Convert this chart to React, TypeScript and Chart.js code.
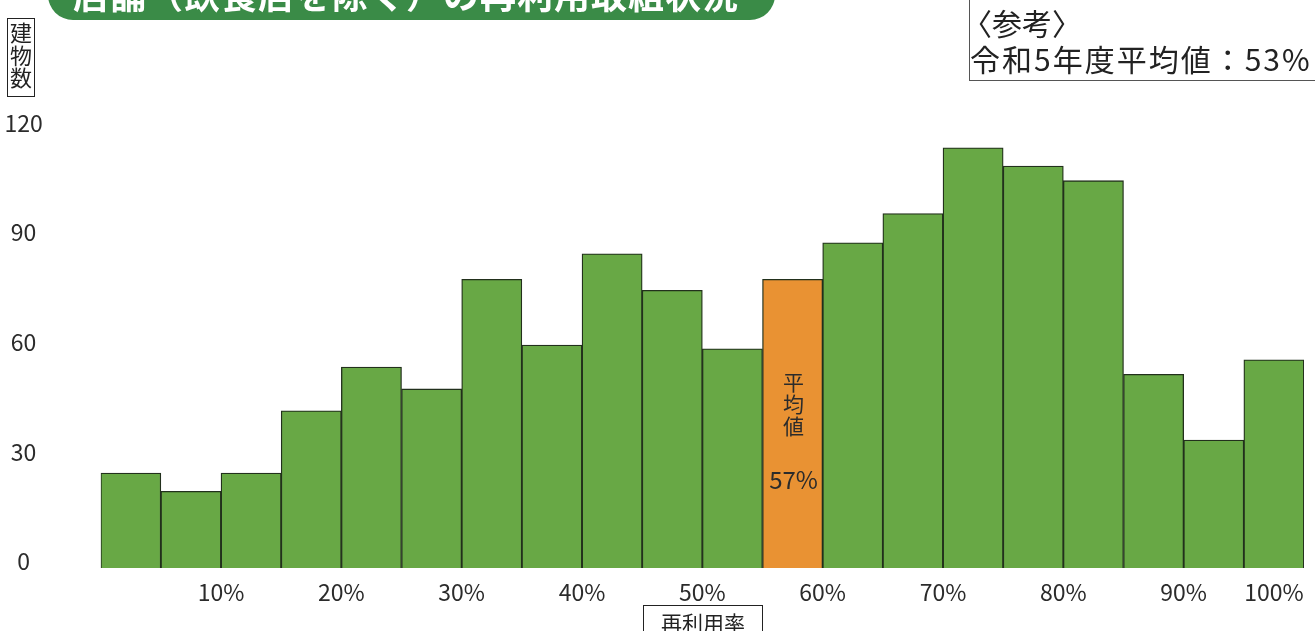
import { useEffect, useRef } from 'react';
import { Chart, registerables } from 'chart.js';

Chart.register(...registerables);

// Re-use rate bins (left edge, %), 5% wide each
const binStarts = [0, 5, 10, 15, 20, 25, 30, 35, 40, 45, 50, 55, 60, 65, 70, 75, 80, 85, 90, 95];
// Number of buildings per bin
const buildingCounts = [26, 21, 26, 43, 55, 49, 79, 61, 86, 76, 60, 79, 89, 97, 115, 110, 106, 53, 35, 57];
// Bin that contains this year's average
const averageBinIndex = 11;
const averageCaption = ['平', '均', '値'];
const averageLabel = '57%';

// X axis tick positions and their labels
const xTickValues = [10, 20, 30, 40, 50, 60, 70, 80, 90, 97.5];
const xTickLabels = ['10%', '20%', '30%', '40%', '50%', '60%', '70%', '80%', '90%', '100%'];
// Y axis
const yMin = 0;
const yMax = 120;
const yStep = 30;

const FONT = '"Noto Sans CJK JP", "Noto Sans", sans-serif';
const GREEN = '#68a845';
const ORANGE = '#e99233';
const EDGE = '#22301c';

const averageTextPlugin = {
  id: 'averageText',
  afterDatasetsDraw(chart: any) {
    const bar = chart.getDatasetMeta(0).data[averageBinIndex];
    if (!bar) return;
    const ctx = chart.ctx;
    ctx.save();
    ctx.fillStyle = '#2b2b2b';
    ctx.textAlign = 'center';
    ctx.textBaseline = 'middle';
    ctx.font = `21px ${FONT}`;
    averageCaption.forEach((c, i) => {
      ctx.fillText(c, bar.x + 1, bar.y + 103 + i * 22);
    });
    ctx.font = `24px ${FONT}`;
    ctx.fillText(averageLabel, bar.x + 1, bar.y + 201);
    ctx.restore();
  },
};

export default function App() {
  const canvasRef = useRef<HTMLCanvasElement | null>(null);

  useEffect(() => {
    if (!canvasRef.current) return;
    const chart = new Chart(canvasRef.current, {
      type: 'bar',
      data: {
        datasets: [
          {
            data: binStarts.map((s, i) => ({ x: s + 2.5, y: buildingCounts[i] })),
            backgroundColor: binStarts.map((_, i) => (i === averageBinIndex ? ORANGE : GREEN)),
            borderColor: EDGE,
            borderWidth: 1.3,
            barPercentage: 1,
            categoryPercentage: 1,
          },
        ],
      },
      plugins: [averageTextPlugin],
      options: {
        animation: false,
        responsive: false,
        maintainAspectRatio: false,
        layout: { padding: { top: 129.5, right: 11, bottom: 0, left: 0 } },
        plugins: { legend: { display: false }, tooltip: { enabled: false }, title: { display: false } },
        scales: {
          x: {
            type: 'linear',
            min: 0,
            max: 100,
            offset: false,
            grid: { display: false, drawTicks: false },
            border: { display: false },
            afterBuildTicks: (scale: any) => {
              scale.ticks = xTickValues.map((v) => ({ value: v }));
            },
            afterFit: (scale: any) => {
              scale.height = 63;
            },
            ticks: {
              autoSkip: false,
              maxRotation: 0,
              padding: 10,
              color: '#2b2b2b',
              font: { family: FONT, size: 23 },
              callback: (_v: any, i: number) => xTickLabels[i],
            },
          },
          y: {
            min: yMin,
            max: yMax,
            grid: { display: false, drawTicks: false },
            border: { display: false },
            afterFit: (scale: any) => {
              scale.width = 100.7;
              scale.paddingTop = 0;
              scale.paddingBottom = 0;
            },
            ticks: {
              stepSize: yStep,
              crossAlign: 'center',
              padding: 58,
              labelOffset: -6.5,
              color: '#2b2b2b',
              font: { family: FONT, size: 23 },
            },
          },
        },
      },
    } as any);
    return () => chart.destroy();
  }, []);

  return (
    <div
      style={{
        position: 'fixed',
        left: 0,
        top: 0,
        width: 1315,
        height: 631,
        overflow: 'hidden',
        background: '#fff',
        fontFamily: FONT,
      }}
    >
      <canvas ref={canvasRef} width={1315} height={631} style={{ position: 'absolute', left: 0, top: 0 }} />

      {/* Title banner */}
      <div
        style={{
          position: 'absolute',
          left: 48,
          top: -30,
          width: 727,
          height: 50,
          background: '#3a8b47',
          borderRadius: 25,
          color: '#fff',
          fontWeight: 700,
          fontSize: 36,
          lineHeight: '46px',
          paddingLeft: 25,
          boxSizing: 'border-box',
          letterSpacing: 1,
          whiteSpace: 'nowrap',
        }}
      >
        店舗（飲食店を除く）の再利用取組状況
      </div>

      {/* Y axis title */}
      <div
        style={{
          position: 'absolute',
          left: 7,
          top: 18,
          width: 28,
          height: 79,
          border: '1.5px solid #222',
          boxSizing: 'border-box',
          display: 'flex',
          flexDirection: 'column',
          alignItems: 'center',
          paddingTop: 1,
          fontSize: 22,
          lineHeight: '22.5px',
          color: '#222',
        }}
      >
        <span>建</span>
        <span>物</span>
        <span>数</span>
      </div>

      {/* Reference note */}
      <div
        style={{
          position: 'absolute',
          left: 969,
          top: -2,
          width: 380,
          height: 83,
          border: '1px solid #555',
          boxSizing: 'border-box',
          color: '#222',
          fontSize: 30,
          lineHeight: '39px',
          paddingTop: 4,
          whiteSpace: 'nowrap',
        }}
      >
        <div style={{ marginLeft: -8 }}>〈参考〉</div>
        <div style={{ letterSpacing: 2, marginTop: -3 }}>令和5年度平均値：53%</div>
      </div>

      {/* X axis title */}
      <div
        style={{
          position: 'absolute',
          left: 643,
          top: 605,
          width: 120,
          height: 40,
          border: '1.5px solid #222',
          boxSizing: 'border-box',
          textAlign: 'center',
          fontSize: 21,
          lineHeight: '32px',
          color: '#222',
        }}
      >
        再利用率
      </div>
    </div>
  );
}
